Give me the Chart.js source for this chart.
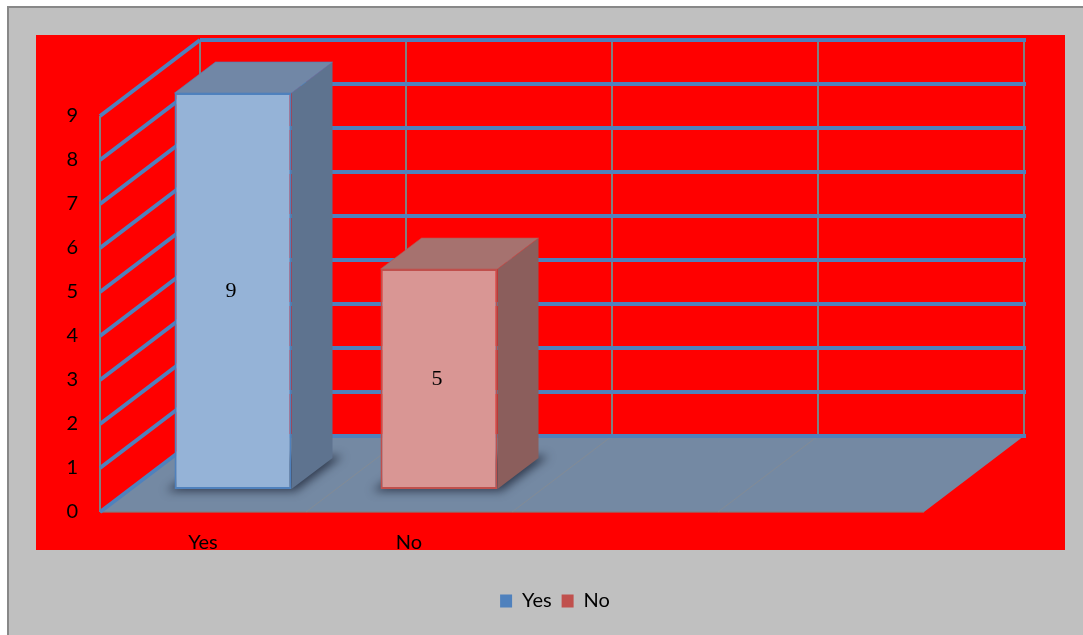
<!DOCTYPE html>
<html>
<head>
<meta charset="utf-8">
<title>Yes / No</title>
<script src="https://cdn.jsdelivr.net/npm/chart.js@4.4.1/dist/chart.umd.min.js"></script>
<style>
  html, body { margin: 0; padding: 0; background: #fff; }
  #chart { display: block; }
</style>
</head>
<body>
<canvas id="chart" width="1083" height="635"></canvas>
<script>
// answers and counts
const categories = ['Yes', 'No', '', ''];
const yesValues = [9, null, null, null];
const noValues = [null, 5, null, null];
const valueTicks = [0, 1, 2, 3, 4, 5, 6, 7, 8, 9];

// fake 3d: offsets from the plane the bar fronts sit on
const FRONT = { dx: -30, dy: 23 };
const BACK = { dx: 70, dy: -53 };
const BAR_DEPTH = { dx: 41, dy: -31 };

const faces = [
  { top: '#7187a6', side: '#5e738f' },
  { top: '#a6726f', side: '#8b5e5c' }
];

const labelFont = '20px Lato';

function poly(ctx, pts) {
  ctx.beginPath();
  ctx.moveTo(pts[0][0], pts[0][1]);
  for (let i = 1; i < pts.length; i++) ctx.lineTo(pts[i][0], pts[i][1]);
  ctx.closePath();
}

function line(ctx, x1, y1, x2, y2) {
  ctx.beginPath();
  ctx.moveTo(x1, y1);
  ctx.lineTo(x2, y2);
  ctx.stroke();
}

// every drawn bar with its value
function eachBar(chart, fn) {
  chart.data.datasets.forEach((ds, di) => {
    const meta = chart.getDatasetMeta(di);
    meta.data.forEach((el, i) => {
      const v = ds.data[i];
      if (v === null || v === undefined) return;
      const { x, y, base, width } = el.getProps(['x', 'y', 'base', 'width'], true);
      fn({ ds, di, v, left: x - width / 2, right: x + width / 2, x, y, base });
    });
  });
}

const box3d = {
  id: 'box3d',
  beforeDraw(chart) {
    const { ctx, width, height } = chart;
    ctx.save();
    ctx.fillStyle = '#ffffff';
    ctx.fillRect(0, 0, width, height);
    ctx.fillStyle = '#c0c0c0';
    ctx.fillRect(7, 6, width - 7, height - 6);
    ctx.fillStyle = '#888888';
    ctx.fillRect(7, 6, width - 7, 2);
    ctx.fillRect(7, 6, 2, height - 6);
    // plot area
    ctx.fillStyle = '#ff0000';
    ctx.fillRect(36, 35, 1029, 515);
    ctx.restore();
  },
  beforeDatasetsDraw(chart) {
    const { ctx, chartArea: a, scales: { x, y } } = chart;
    const y0 = y.getPixelForValue(0);
    const yTop = y.getPixelForValue(valueTicks[valueTicks.length - 1]);
    const step = (a.right - a.left) / categories.length;
    ctx.save();

    // floor
    ctx.fillStyle = '#7489a3';
    poly(ctx, [
      [a.left + FRONT.dx, y0 + FRONT.dy],
      [a.right + FRONT.dx, y0 + FRONT.dy],
      [a.right + BACK.dx, y0 + BACK.dy],
      [a.left + BACK.dx, y0 + BACK.dy]
    ]);
    ctx.fill();
    ctx.strokeStyle = 'rgba(128,128,128,0.8)';
    ctx.lineWidth = 1.5;
    line(ctx, a.left + FRONT.dx, y0 + FRONT.dy, a.right + FRONT.dx, y0 + FRONT.dy);
    ctx.strokeStyle = 'rgba(140,140,140,0.6)';
    ctx.lineWidth = 1;
    for (let i = 1; i < categories.length; i++) {
      const bx = a.left + i * step;
      line(ctx, bx + FRONT.dx, y0 + FRONT.dy, bx + BACK.dx, y0 + BACK.dy);
    }

    // vertical lines on the walls
    ctx.strokeStyle = '#808080';
    ctx.lineWidth = 2;
    line(ctx, a.left + FRONT.dx, yTop + FRONT.dy, a.left + FRONT.dx, y0 + FRONT.dy);
    for (let i = 0; i <= categories.length; i++) {
      const bx = a.left + i * step + BACK.dx;
      line(ctx, bx, yTop + BACK.dy, bx, y0 + BACK.dy);
    }

    // value gridlines across the side wall and back wall
    ctx.strokeStyle = '#4f81bd';
    ctx.lineWidth = 4;
    valueTicks.forEach(v => {
      const py = y.getPixelForValue(v);
      line(ctx, a.left + FRONT.dx, py + FRONT.dy, a.left + BACK.dx, py + BACK.dy);
      line(ctx, a.left + BACK.dx, py + BACK.dy, a.right + BACK.dx + 2, py + BACK.dy);
    });

    // soft shadows under the bars
    ctx.filter = 'blur(5px)';
    ctx.fillStyle = 'rgba(25,32,50,0.75)';
    eachBar(chart, b => {
      poly(ctx, [
        [b.left - 8, b.base + 2],
        [b.right + 4, b.base + 2],
        [b.right + BAR_DEPTH.dx + 10, b.base + BAR_DEPTH.dy - 2],
        [b.left + BAR_DEPTH.dx, b.base + BAR_DEPTH.dy - 2]
      ]);
      ctx.fill();
    });
    ctx.filter = 'none';
    ctx.restore();
  },
  afterDatasetsDraw(chart) {
    const { ctx, scales: { x, y } } = chart;
    ctx.save();

    // top and side faces of the bars
    eachBar(chart, b => {
      const f = faces[b.di];
      ctx.lineWidth = 1;
      ctx.strokeStyle = b.ds.borderColor;
      ctx.fillStyle = f.side;
      poly(ctx, [
        [b.right, b.y],
        [b.right + BAR_DEPTH.dx, b.y + BAR_DEPTH.dy],
        [b.right + BAR_DEPTH.dx, b.base + BAR_DEPTH.dy],
        [b.right, b.base]
      ]);
      ctx.fill();
      ctx.fillStyle = f.top;
      poly(ctx, [
        [b.left, b.y],
        [b.right, b.y],
        [b.right + BAR_DEPTH.dx, b.y + BAR_DEPTH.dy],
        [b.left + BAR_DEPTH.dx, b.y + BAR_DEPTH.dy]
      ]);
      ctx.fill();
      ctx.globalAlpha = 0.6;
      ctx.stroke();
      ctx.globalAlpha = 1;

      // value on the front face
      ctx.fillStyle = '#000';
      ctx.font = '22px "Liberation Serif"';
      ctx.textAlign = 'center';
      ctx.textBaseline = 'middle';
      ctx.fillText(String(b.v), b.x - 2, (b.y + b.base) / 2);
    });

    // value axis labels along the front edge
    ctx.fillStyle = '#000';
    ctx.font = labelFont;
    ctx.textAlign = 'right';
    ctx.textBaseline = 'middle';
    valueTicks.forEach(v => {
      ctx.fillText(String(v), 78, y.getPixelForValue(v) + FRONT.dy);
    });

    // category labels, cut off by the plot area
    ctx.beginPath();
    ctx.rect(36, 35, 1029, 515);
    ctx.clip();
    ctx.textAlign = 'center';
    ctx.textBaseline = 'alphabetic';
    const y0 = y.getPixelForValue(0);
    categories.forEach((c, i) => {
      ctx.fillText(c, x.getPixelForValue(i) + FRONT.dx, y0 + FRONT.dy + 37);
    });
    ctx.restore();
  }
};

const chart = new Chart(document.getElementById('chart'), {
  type: 'bar',
  data: {
    labels: categories,
    datasets: [
      {
        label: 'Yes',
        data: yesValues,
        backgroundColor: '#95b3d7',
        borderColor: '#4f81bd',
        borderWidth: 2,
        borderSkipped: false
      },
      {
        label: 'No',
        data: noValues,
        backgroundColor: '#d99694',
        borderColor: '#c0504d',
        borderWidth: 2,
        borderSkipped: false
      }
    ]
  },
  options: {
    responsive: false,
    animation: false,
    categoryPercentage: 1,
    barPercentage: 0.568,
    layout: { padding: { left: 130, right: 103, top: 93, bottom: 14 } },
    scales: {
      x: {
        stacked: true,
        grid: { display: false },
        border: { display: false },
        ticks: { display: false },
        afterFit(scale) { scale.height = 92; }
      },
      y: {
        stacked: true,
        min: 0,
        max: 9,
        ticks: { display: false, stepSize: 1 },
        grid: { display: false },
        border: { display: false },
        afterFit(scale) { scale.width = 0; }
      },
      // empty axis on the right, only keeps the legend centred like the original
      y2: {
        type: 'linear',
        position: 'right',
        min: 0,
        max: 1,
        ticks: { display: false },
        grid: { display: false },
        border: { display: false },
        afterFit(scale) { scale.width = 26; }
      }
    },
    plugins: {
      tooltip: { enabled: false },
      legend: {
        position: 'bottom',
        labels: {
          font: { family: 'Lato', size: 20 },
          color: '#000',
          boxWidth: 12,
          boxHeight: 13,
          padding: 10,
          generateLabels(chart) {
            return Chart.defaults.plugins.legend.labels.generateLabels(chart).map(l => {
              const ds = chart.data.datasets[l.datasetIndex];
              l.fillStyle = ds.borderColor;
              l.strokeStyle = ds.borderColor;
              l.lineWidth = 0;
              return l;
            });
          }
        }
      }
    }
  },
  plugins: [box3d]
});
</script>
</body>
</html>
